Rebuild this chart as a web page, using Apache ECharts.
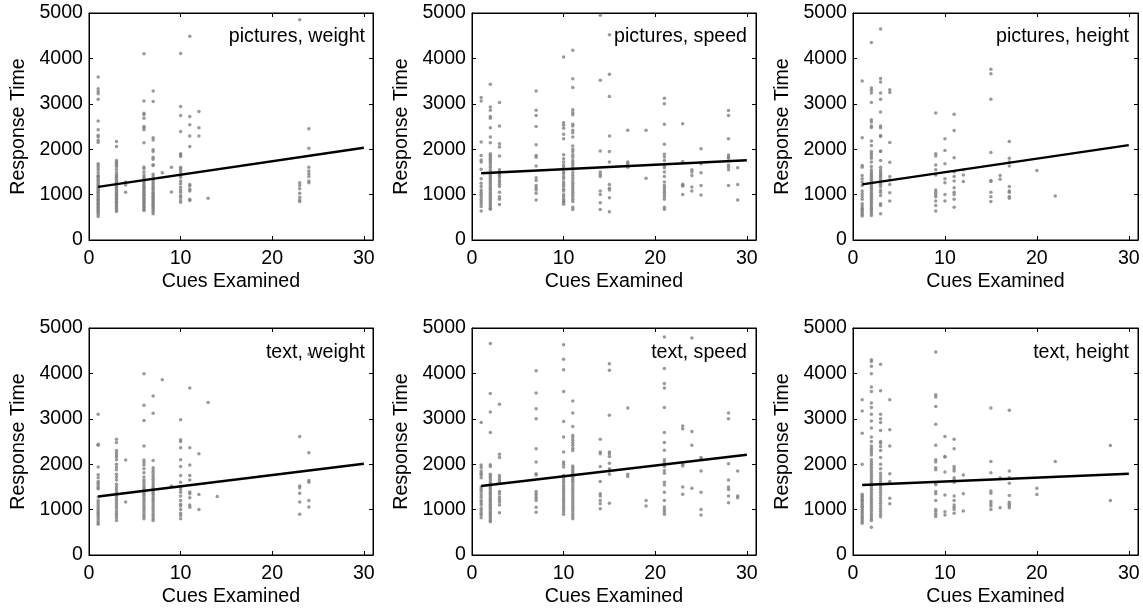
<!DOCTYPE html>
<html><head><meta charset="utf-8">
<script src="https://cdn.jsdelivr.net/npm/echarts@6/dist/echarts.min.js"></script>
<style>html,body{margin:0;padding:0;background:#fff}#c{width:1143px;height:609px}</style>
</head><body><div id="c"></div>
<script>
const panelTitles = ['pictures, weight', 'pictures, speed', 'pictures, height', 'text, weight', 'text, speed', 'text, height'];
const xTickValues = [0, 10, 20, 30];
const yTickValues = [0, 1000, 2000, 3000, 4000, 5000];
const xAxisName = 'Cues Examined';
const yAxisName = 'Response Time';

// regression line endpoints [x, y]
const fitPicturesWeight = [[1, 1170], [30, 2030]];
const fitPicturesSpeed  = [[1, 1470], [30, 1755]];
const fitPicturesHeight = [[1, 1225], [30, 2090]];
const fitTextWeight     = [[1, 1290], [30, 2010]];
const fitTextSpeed      = [[1, 1520], [30, 2208]];
const fitTextHeight     = [[1, 1542], [30, 1792]];

// scatter: [cues examined, [response times]]
const picturesWeight = [
  [1, [3590,3330,3270,3220,3100,2620,2430,2310,2270,2190,2150,1680,1640,1590,1540,1480,1420,1400,1370,1330,1300,1260,1220,1190,1160,1130,1100,1080,1050,1020,990,960,930,900,870,840,810,780,750,720,690,660,630,600,560,520]],
  [3, [2170,2060,1750,1720,1690,1650,1620,1560,1500,1440,1410,1380,1340,1300,1270,1230,1200,1160,1130,1100,1070,1040,1010,980,950,920,890,860,830,800,770,740,700,660,630]],
  [4, [1280,1210,1050]],
  [6, [4100,3060,2790,2760,2680,2500,2470,2430,2140,1610,1570,1500,1430,1390,1350,1300,1260,1220,1190,1160,1130,1100,1070,1040,1010,980,950,920,890,860,830,800,770,740,710,680,650]],
  [7, [3280,3050,2250,2200,1990,1950,1820,1780,1660,1640,1450,1400,1340,1300,1260,1220,1180,1140,1100,1060,1030,1000,970,940,910,880,850,820,790,760,730,700,660,620,580]],
  [8, [1480]],
  [9, [1600,1060]],
  [10, [4110,2940,2740,2390,1900,1880,1840,1600,1570,1530,1480,1420,1380,1300,1240,1160,1100,1050,980,940,880,830]],
  [11, [4490,2720,2540,2290,2060,1220,1190,1120,1080,900,870]],
  [12, [2830,2470,2290]],
  [13, [920]],
  [23, [4850,1260,1200,1130,1030,940,880,850]],
  [24, [2450,2020,1600,1520,1460,1400,1300,1260]]
];
const picturesSpeed = [
  [1, [3140,3060,2160,1860,1760,1720,1560,1350,1250,1180,1100,1050,1000,950,900,850,800,740,640]],
  [2, [3430,2930,2860,2720,2680,2470,2270,2140,1900,1860,1820,1780,1740,1700,1650,1600,1550,1500,1460,1420,1380,1340,1300,1260,1220,1180,1140,1100,1060,1020,980,940,900,860,820,780,740,700,680]],
  [3, [3030,2510,2120,2050,1850,1550,1500,1460,1420,1380,1320,1280,1230,1180,1050,950,900,780]],
  [7, [3280,2860,2740,2500,2100,1860,1820,1630,1370,1310,1200,1150,1100,1030,880]],
  [10, [4030,2580,2530,2460,2330,2230,1880,1790,1720,1650,1600,1560,1500,1460,1400,1350,1280,1230,1180,1120,1080,1000,950,900,860,830,790]],
  [11, [4180,3550,3360,2870,2810,2760,2550,2510,2420,2360,2270,2070,2000,1950,1880,1820,1750,1700,1660,1600,1550,1480,1420,1360,1300,1250,1200,1150,1100,1050,1000,950,900,850,720,670]],
  [14, [4950,3520,1960,1500,1440,1400,1080,1000,820,670]],
  [15, [4520,3650,3160,2290,1950,1720,1220,1140,1100,930,620]],
  [17, [2420,1720,1680,1600]],
  [19, [2420,1360]],
  [21, [3120,3000,2550,2110,1890,1830,1750,1640,1590,1500,1400,1280,1200,1150,1100,1050,1000,950,900,720,680]],
  [23, [2560,1730,1230,1200,1190,1000]],
  [24, [1550,1500,1420,1170,1080]],
  [25, [2010,1680,1480,1200,990]],
  [28, [2850,2740,2230,1870,1830,1800,1650,1600,1550,1200]],
  [29, [1590,1220,880]]
];
const picturesHeight = [
  [1, [3500,2250,1640,1600,1420,1350,1280,1200,1080,1020,960,900,800,750,700,670,640,600,560,530]],
  [2, [4350,3350,3300,3240,3030,2650,2600,2510,2480,2180,2080,1950,1900,1850,1800,1720,1620,1550,1500,1460,1420,1380,1340,1300,1260,1220,1180,1140,1100,1060,1020,980,940,900,860,820,780,740,700,660,620,580,540]],
  [3, [4650,3560,3480,3240,3100,2820,2510,2470,2300,2280,1960,1950,1750,1600,1550,1500,1460,1420,1380,1330,1280,1230,1180,1100,1050,980,800,760,580]],
  [4, [3310,3250,2150,1710,1400,1320,1220,1040,860]],
  [9, [2800,1900,1850,1650,1550,1430,1100,1050,1000,950,860,760,640]],
  [10, [2230,1970,1680,1350,1260,1000,860]],
  [11, [2770,2410,1810,1500,1400,1300,1150,1050,1000,900,720]],
  [12, [1550,1430,1290]],
  [15, [3760,3660,3100,1930,1310,1290,1050,950,850]],
  [16, [1420,1340]],
  [17, [2170,1800,1720,1630,1180,1080,1050,960,920]],
  [20, [1530]],
  [22, [970]]
];
const textWeight = [
  [1, [3100,2440,2420,1940,1770,1700,1620,1580,1530,1480,1460,1280,1200,1150,1100,1050,1000,960,920,880,840,800,750,710,680]],
  [3, [2550,2480,2300,2250,2200,2160,2100,2000,1940,1880,1780,1720,1650,1560,1500,1440,1380,1320,1280,1230,1180,1130,1080,1030,970,920,870,820,760]],
  [4, [2090,1170]],
  [6, [3990,3300,2960,2400,2090,2040,1980,1900,1810,1720,1650,1600,1550,1500,1460,1420,1380,1340,1300,1250,1200,1150,1100,1050,1000,950,900,850,800]],
  [7, [3500,3120,2080,1920,1870,1820,1770,1720,1670,1620,1570,1520,1480,1440,1400,1360,1320,1280,1240,1200,1150,1100,1050,1000,950,900,850,800,760]],
  [8, [3860]],
  [9, [1520]],
  [10, [2980,2540,2500,2360,2100,1950,1750,1600,1500,1440,1380,1300,1200,1120,1080,1000,920,870,800]],
  [11, [3680,2360,1980,1750,1650,1390,1350,1260,1100,1050]],
  [12, [2230,1330,1000]],
  [13, [3360]],
  [14, [1290]],
  [23, [2610,1520,1480,1360,1170,900]],
  [24, [4420,2250,1640,1600,1200,1060]]
];
const textSpeed = [
  [1, [2920,1980,1930,1850,1800,1760,1700,1500,1450,1400,1330,1270,1200,1150,1100,1030,980,920,880,820]],
  [2, [4660,3560,3150,2700,1990,1950,1780,1740,1700,1650,1600,1560,1520,1480,1440,1400,1360,1320,1280,1240,1200,1160,1120,1080,1040,1000,960,920,880,840,800,760,730]],
  [3, [3320,2220,2150,1750,1700,1650,1600,1400,1350,1280,1220,1170,1100,930]],
  [7, [4060,3570,3220,3000,2340,2050,1790,1760,1400,1350,1300,1250,1200,1050,940]],
  [10, [4630,4310,4080,3600,2940,2600,2270,2050,2000,1940,1750,1700,1650,1600,1550,1500,1450,1400,1350,1300,1250,1200,1150,1100,1050,1000,950,900]],
  [11, [3390,3130,2830,2630,2580,2530,2470,2420,2350,2300,1960,1920,1880,1840,1800,1760,1720,1680,1640,1600,1550,1500,1450,1400,1350,1300,1250,1200,1150,1100,1050,1000,950,900,850,800]],
  [14, [2550,2270,2230,1950,1620,1350,1300,1200,1130,1020]],
  [15, [4210,4070,3080,2270,2230,2170,2020,1900,1850,1780,1140]],
  [17, [3240,1780,1730]],
  [19, [1200,1080]],
  [21, [4800,4110,3780,3680,3250,2700,2480,2310,2100,2050,2000,1950,1860,1800,1600,1540,1380,1200,1060,1000,950,900]],
  [23, [2840,2780,2000,1960,1500,1340]],
  [24, [4780,2720,2420,1470]],
  [25, [2150,2120,1850,1380,1000,880]],
  [28, [3130,3000,2010,1650,1500,1440,1300,1150]],
  [29, [1850,1300,1260]]
];
const textHeight = [
  [1, [3420,3170,2680,2000,1340,1300,1270,1230,1200,1160,1120,1080,1050,1010,970,930,890,850,820,780,740,700]],
  [2, [4300,4260,4160,3990,3700,3600,3350,3250,3100,2950,2800,2600,2500,2400,2350,2300,2250,2200,2100,2050,2000,1950,1900,1850,1800,1750,1700,1650,1600,1550,1500,1450,1400,1350,1300,1250,1200,1150,1100,1050,1000,950,900,850,800,760,610]],
  [3, [4200,3620,3100,3000,2920,2740,2500,2460,2390,2300,2150,2000,1900,1800,1740,1680,1620,1560,1500,1440,1380,1320,1260,1200,1140,1080,1020,960,900,840]],
  [4, [3420,2760,2400,1790,1620,1250,1130]],
  [9, [4470,3530,3480,3270,2880,2420,2100,2050,1920,1880,1580,1550,1400,1350,1200,1000,960,900,850]],
  [10, [2610,2170,2160,1830,1320,950,880]],
  [11, [2550,2340,1950,1900,1850,1700,1650,1600,1300,1200,1100,1050,1000,920]],
  [12, [1760,1350,970]],
  [15, [3240,2060,1810,1410,1360,1180,1130,1080,1000]],
  [16, [1700,1040]],
  [17, [3190,1850,1700,1580,1310,1160,1120,1080,1040]],
  [20, [1470,1330]],
  [22, [2060]],
  [28, [2410,1200]]
];

const panelScatter = [picturesWeight, picturesSpeed, picturesHeight, textWeight, textSpeed, textHeight];
const panelFit = [fitPicturesWeight, fitPicturesSpeed, fitPicturesHeight, fitTextWeight, fitTextSpeed, fitTextHeight];

const FONT = '"Liberation Sans", Arial, Helvetica, sans-serif';
const FS = 19.6;
const colLeft = [89, 472, 853];
const colWidth = [284, 284, 285];
const rowTop = [13, 328];
const rowHeight = [227, 227];
const titleRight = [778, 396, 14];
const titleTop = [27, 343];

const grids = [], xAxes = [], yAxes = [], series = [], titles = [];
for (let i = 0; i < 6; i++) {
  const r = Math.floor(i / 3), c = i % 3;
  grids.push({ left: colLeft[c], top: rowTop[r], width: colWidth[c], height: rowHeight[r], show: true, borderColor: '#000', borderWidth: 1, backgroundColor: '#fff' });
  const tickStyle = { show: true, inside: true, length: 4, lineStyle: { color: '#000', width: 1 } };
  const baseX = { gridIndex: i, type: 'value', min: 0, max: 31, interval: 10, splitLine: { show: false },
    axisLine: { show: true, onZero: false, lineStyle: { color: '#000', width: 1 } }, axisTick: tickStyle };
  xAxes.push(Object.assign({}, baseX, { position: 'bottom',
    axisLabel: { show: true, margin: 9, color: '#000', fontSize: FS, fontFamily: FONT,
      formatter: v => xTickValues.includes(v) ? String(v) : '' },
    name: xAxisName, nameLocation: 'middle', nameGap: 32,
    nameTextStyle: { color: '#000', fontSize: FS, fontFamily: FONT } }));
  xAxes.push(Object.assign({}, baseX, { position: 'top', axisLabel: { show: false } }));
  const baseY = { gridIndex: i, type: 'value', min: 0, max: 5000, interval: 1000, splitLine: { show: false },
    axisLine: { show: true, onZero: false, lineStyle: { color: '#000', width: 1 } }, axisTick: tickStyle };
  yAxes.push(Object.assign({}, baseY, { position: 'left',
    axisLabel: { show: true, margin: 6, color: '#000', fontSize: FS, fontFamily: FONT,
      formatter: v => yTickValues.includes(v) ? String(v) : '' },
    name: yAxisName, nameLocation: 'middle', nameGap: 60,
    nameTextStyle: { color: '#000', fontSize: FS, fontFamily: FONT } }));
  yAxes.push(Object.assign({}, baseY, { position: 'right', axisLabel: { show: false } }));

  const pts = [];
  panelScatter[i].forEach(([x, ys]) => ys.forEach(y => pts.push([x, y])));
  series.push({ type: 'scatter', xAxisIndex: 2 * i, yAxisIndex: 2 * i, data: pts, symbolSize: 3.5,
    itemStyle: { color: '#808080' }, silent: true, animation: false });
  series.push({ type: 'line', xAxisIndex: 2 * i, yAxisIndex: 2 * i, data: panelFit[i], showSymbol: false,
    lineStyle: { color: '#000', width: 2.5 }, silent: true, animation: false, z: 5 });
  titles.push({ text: panelTitles[i], right: titleRight[c], top: titleTop[r], padding: 0,
    textStyle: { color: '#000', fontSize: FS, fontWeight: 'normal', fontFamily: FONT } });
}

const chart = echarts.init(document.getElementById('c'), null, { renderer: 'canvas' });
chart.setOption({ animation: false, backgroundColor: '#fff', title: titles, grid: grids, xAxis: xAxes, yAxis: yAxes, series: series });
</script>
</body></html>
